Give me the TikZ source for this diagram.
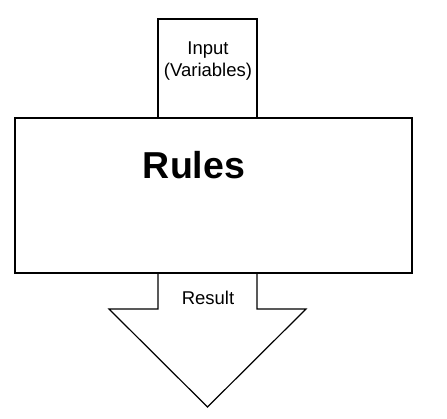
\documentclass[tikz,border=0pt]{standalone}
\usepackage{fontspec}
\setmainfont{Liberation Sans}
\usetikzlibrary{positioning}

\begin{document}
\begin{tikzpicture}[
		  x=1pt, y=1pt,
		  node distance=0pt,
		  boxnode/.style={draw,line width=1.2pt,rectangle,inner sep=0pt,outer sep=0pt},
		  txt/.style={font=\fontsize{18.5}{21.5}\selectfont,align=center}
		]
		\useasboundingbox (0,0) rectangle (447,-418);
		\node[boxnode,minimum width=397pt,minimum height=155pt] (Rules) at (213.5,-195.5) {};
		\node[boxnode,minimum width=99pt,minimum height=99pt,above=of Rules,xshift=-6pt] (Input) {};
		\node[txt] (InputText) at (208,-61) {Input\\(Variables)};
		\node[font=\fontsize{37.5}{42}\selectfont\bfseries] (RulesText) at (194,-165) {Rules};
		% arrow below the box
		\coordinate (StemL) at ([xshift=-55.5pt]Rules.south);
		\coordinate (StemR) at ([xshift=43.5pt]Rules.south);
		\coordinate (Tip) at ([xshift=-6pt,yshift=-134pt]Rules.south);
		\draw[line width=1.2pt,line join=miter] (StemL) -- ++(0,-36) -- ++(-49,0) -- (Tip)
			-- ([yshift=-36pt,xshift=49pt]StemR) -- ([yshift=-36pt]StemR) -- (StemR);
		\node[txt] (ResultText) at (208,-298) {Result};
		\end{tikzpicture}
\end{document}
